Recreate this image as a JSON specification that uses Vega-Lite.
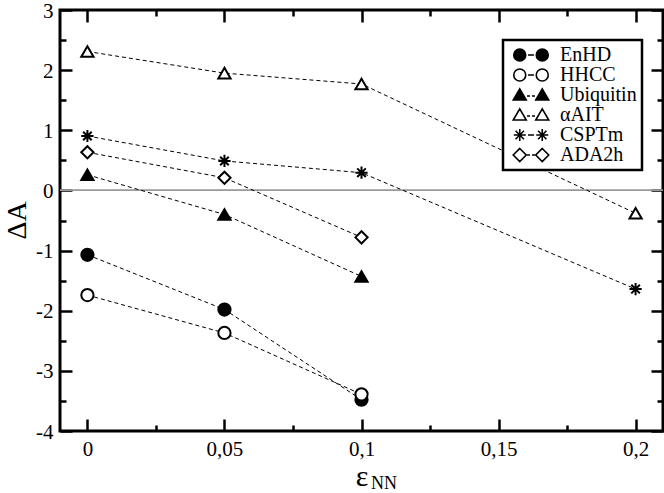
{
  "$schema": "https://vega.github.io/schema/vega-lite/v6.json",
  "width": 603,
  "height": 421,
  "autosize": "none",
  "padding": {"left": 60, "top": 10, "right": 1, "bottom": 62},
  "background": "white",
  "config": {
    "view": {"stroke": "black", "strokeWidth": 3},
    "font": "Liberation Serif",
    "axis": {
      "domain": false, "grid": false, "tickColor": "black", "tickWidth": 2.5,
      "labelFont": "Liberation Serif", "labelFontSize": 21, "labelColor": "black",
      "labelPadding": 19, "labelFlush": false, "labelOverlap": false, "labelBound": false,
      "titleFont": "Liberation Serif", "titleFontWeight": "normal", "titleColor": "black"
    },
    "legend": {"strokeWidth": 2.5}
  },
  "data": {"values": [
    {"s": "EnHD", "eps": 0, "dA": -1.07},
    {"s": "EnHD", "eps": 0.05, "dA": -1.98},
    {"s": "EnHD", "eps": 0.1, "dA": -3.48},
    {"s": "HHCC", "eps": 0, "dA": -1.74},
    {"s": "HHCC", "eps": 0.05, "dA": -2.37},
    {"s": "HHCC", "eps": 0.1, "dA": -3.39},
    {"s": "Ubiquitin", "eps": 0, "dA": 0.26},
    {"s": "Ubiquitin", "eps": 0.05, "dA": -0.4},
    {"s": "Ubiquitin", "eps": 0.1, "dA": -1.43},
    {"s": "αAIT", "eps": 0, "dA": 2.31},
    {"s": "αAIT", "eps": 0.05, "dA": 1.95},
    {"s": "αAIT", "eps": 0.1, "dA": 1.77},
    {"s": "αAIT", "eps": 0.2, "dA": -0.38},
    {"s": "CSPTm", "eps": 0, "dA": 0.905},
    {"s": "CSPTm", "eps": 0.05, "dA": 0.49},
    {"s": "CSPTm", "eps": 0.1, "dA": 0.295},
    {"s": "CSPTm", "eps": 0.2, "dA": -1.64},
    {"s": "ADA2h", "eps": 0, "dA": 0.634},
    {"s": "ADA2h", "eps": 0.05, "dA": 0.21},
    {"s": "ADA2h", "eps": 0.1, "dA": -0.78}
  ]},
  "layer": [
    {
      "mark": {"type": "rule", "color": "#9a9a9a", "strokeWidth": 1},
      "encoding": {
        "y": {"datum": 0, "type": "quantitative",
          "scale": {"domain": [-4, 3], "nice": false, "zero": false},
          "axis": {"orient": "right", "values": [-4,-3.5,-3,-2.5,-2,-1.5,-1,-0.5,0,0.5,1,1.5,2,2.5,3],
            "tickSize": {"condition": {"test": "abs(datum.value-round(datum.value))<0.001", "value": -12}, "value": -6},
            "labels": false, "title": null}}
      }
    },
    {
      "mark": {"type": "line", "color": "black", "strokeWidth": 1, "strokeDash": [4, 3]},
      "encoding": {
        "x": {"field": "eps", "type": "quantitative",
          "scale": {"domain": [-0.01, 0.21], "nice": false, "zero": false},
          "axis": {"orient": "top", "values": [0,0.025,0.05,0.075,0.1,0.125,0.15,0.175,0.2],
            "tickSize": {"condition": {"test": "abs(datum.value*20-round(datum.value*20))<0.001", "value": -12}, "value": -6},
            "labels": false, "title": null}},
        "y": {"field": "dA", "type": "quantitative", "axis": null},
        "detail": {"field": "s", "type": "nominal"}
      }
    },
    {
      "mark": {"type": "point", "stroke": "black", "strokeWidth": 2, "opacity": 1, "fillOpacity": 1, "size": 150},
      "encoding": {
        "x": {"field": "eps", "type": "quantitative",
          "axis": {"orient": "bottom", "values": [0,0.025,0.05,0.075,0.1,0.125,0.15,0.175,0.2],
            "tickSize": {"condition": {"test": "abs(datum.value*20-round(datum.value*20))<0.001", "value": -12}, "value": -6},
            "labelExpr": "abs(datum.value*20-round(datum.value*20))<0.001 ? replace(''+datum.value,'.',',') : ''",
            "labelFont": "Liberation Serif", "labelFontSize": 21, "titleFont": "Liberation Serif",
            "title": "ε", "titleFontSize": 30, "titleX": 301.5, "titleY": 54, "titleBaseline": "alphabetic", "titleAlign": "center"}},
        "y": {"field": "dA", "type": "quantitative",
          "axis": {"orient": "left", "values": [-4,-3.5,-3,-2.5,-2,-1.5,-1,-0.5,0,0.5,1,1.5,2,2.5,3],
            "tickSize": {"condition": {"test": "abs(datum.value-round(datum.value))<0.001", "value": -12}, "value": -6},
            "labelExpr": "abs(datum.value-round(datum.value))<0.001 ? ''+datum.value : ''",
            "labelFont": "Liberation Serif", "labelFontSize": 21, "labelOffset": 1, "titleFont": "Liberation Serif",
            "title": "ΔA", "titleFontSize": 28, "titleAngle": -90, "titleX": -35, "titleY": 210, "titleBaseline": "alphabetic", "titleAlign": "center"}},
        "shape": {"field": "s", "type": "nominal",
          "scale": {"domain": ["EnHD","HHCC","Ubiquitin","αAIT","CSPTm","ADA2h"],
            "range": ["circle","circle","triangle-up","triangle-up","M0,-1L0,1M-1,0L1,0M-0.7,-0.7L0.7,0.7M-0.7,0.7L0.7,-0.7","diamond"]},
          "legend": null},
        "fill": {"field": "s", "type": "nominal",
          "scale": {"domain": ["EnHD","HHCC","Ubiquitin","αAIT","CSPTm","ADA2h"],
            "range": ["black","white","black","white","black","white"]},
          "legend": null}
      }
    },
    {
      "transform": [{"filter": "datum.eps > 1"}],
      "mark": {"type": "point", "strokeWidth": 1.5, "opacity": 1, "fillOpacity": 1},
      "encoding": {
        "x": {"field": "eps", "type": "quantitative",
          "axis": {"orient": "bottom", "ticks": false, "labels": false, "domain": false,
            "titleFont": "Liberation Serif",
            "title": "NN", "titleFontSize": 18, "titleX": 323.5, "titleY": 57, "titleBaseline": "alphabetic", "titleAlign": "center"}},
        "y": {"field": "dA", "type": "quantitative", "axis": null},
        "shape": {"field": "s", "type": "nominal",
          "scale": {"domain": ["EnHD","HHCC","Ubiquitin","αAIT","CSPTm","ADA2h"],
            "range": [
              "M-0.583,0A0.667,0.667,0,1,1,-1.917,0A0.667,0.667,0,1,1,-0.583,0ZM1.917,0A0.667,0.667,0,1,1,0.583,0A0.667,0.667,0,1,1,1.917,0ZM-0.33,0L0.33,0",
              "M-0.583,0A0.667,0.667,0,1,1,-1.917,0A0.667,0.667,0,1,1,-0.583,0ZM1.917,0A0.667,0.667,0,1,1,0.583,0A0.667,0.667,0,1,1,1.917,0ZM-0.33,0L0.33,0",
              "M-1.25,-0.69L-0.528,0.556L-1.972,0.556ZM1.25,-0.69L1.972,0.556L0.528,0.556ZM-0.44,0.11L-0.11,0.11M0.11,0.11L0.44,0.11",
              "M-1.25,-0.69L-0.528,0.556L-1.972,0.556ZM1.25,-0.69L1.972,0.556L0.528,0.556ZM-0.44,0.11L-0.11,0.11M0.11,0.11L0.44,0.11",
              "M-1.25,-0.667L-1.25,0.667M-1.917,0L-0.583,0M-1.717,-0.467L-0.783,0.467M-1.717,0.467L-0.783,-0.467M1.25,-0.667L1.25,0.667M0.583,0L1.917,0M0.783,-0.467L1.717,0.467M0.783,0.467L1.717,-0.467M-0.33,0L0.33,0",
              "M-1.25,-0.722L-0.528,0L-1.25,0.722L-1.972,0ZM1.25,-0.722L1.972,0L1.25,0.722L0.528,0ZM-0.44,0L-0.11,0M0.11,0L0.44,0"
            ]},
          "legend": {"title": null, "orient": "none", "legendX": 443, "legendY": 30, "padding": 5,
            "strokeColor": "black", "fillColor": "white",
            "symbolSize": 324, "symbolStrokeWidth": 1.6,
            "symbolOffset": 13, "labelOffset": 19, "labelFont": "Liberation Serif", "labelFontSize": 20,
            "labelColor": "black", "rowPadding": 0}},
        "fill": {"field": "s", "type": "nominal",
          "scale": {"domain": ["EnHD","HHCC","Ubiquitin","αAIT","CSPTm","ADA2h"],
            "range": ["black","white","black","white","black","white"]},
          "legend": {"title": null, "orient": "none", "legendX": 443, "legendY": 30, "padding": 5,
            "strokeColor": "black", "fillColor": "white",
            "symbolSize": 324, "symbolStrokeWidth": 1.6,
            "symbolOffset": 13, "labelOffset": 19, "labelFont": "Liberation Serif", "labelFontSize": 20,
            "labelColor": "black", "rowPadding": 0}},
        "stroke": {"field": "s", "type": "nominal",
          "scale": {"domain": ["EnHD","HHCC","Ubiquitin","αAIT","CSPTm","ADA2h"],
            "range": ["black","black","black","black","black","black"]},
          "legend": {"title": null, "orient": "none", "legendX": 443, "legendY": 30, "padding": 5,
            "strokeColor": "black", "fillColor": "white",
            "symbolSize": 324, "symbolStrokeWidth": 1.6,
            "symbolOffset": 13, "labelOffset": 19, "labelFont": "Liberation Serif", "labelFontSize": 20,
            "labelColor": "black", "rowPadding": 0}}
      }
    }
  ],
  "resolve": {
    "scale": {"shape": "independent", "fill": "independent", "stroke": "independent"},
    "axis": {"x": "independent", "y": "independent"}
  }
}
